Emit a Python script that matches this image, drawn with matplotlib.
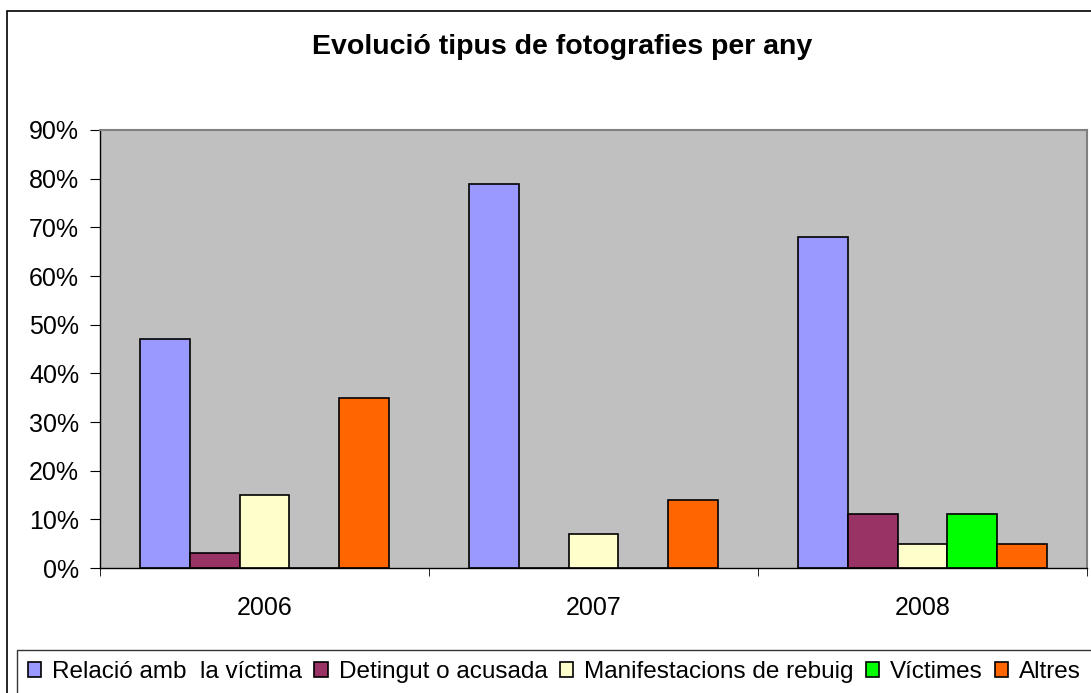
import numpy as np
import matplotlib
matplotlib.use("Agg")
import matplotlib.pyplot as plt
from matplotlib.patches import Rectangle

plt.rcParams['font.family'] = ['Liberation Sans', 'DejaVu Sans']

years = ['2006', '2007', '2008']
series = ['Relació amb  la víctima', 'Detingut o acusada',
          'Manifestacions de rebuig', 'Víctimes', 'Altres']
colors = ['#9999FF', '#993366', '#FFFFCC', '#00FF00', '#FF6600']

relacio = [47, 79, 68]
detingut = [3, 0, 11]
manifestacions = [15, 7, 5]
victimes = [0, 0, 11]
altres = [35, 14, 5]
values = [relacio, detingut, manifestacions, victimes, altres]

fig = plt.figure(figsize=(10.91, 6.93), dpi=100)
ax = fig.add_axes([100 / 1091, 1 - 568 / 693, 987 / 1091, 438 / 693])
ax.set_facecolor('#C0C0C0')

# outer chart frame
fig.patches.append(Rectangle((7 / 1091, -0.1), 1.2, 1.1 - 11 / 693,
                             transform=fig.transFigure, fill=False,
                             edgecolor='black', linewidth=1.2))

x = np.arange(len(years))
w = 1 / 6.6
for i, (vals, col, name) in enumerate(zip(values, colors, series)):
    pos = x - 0.5 + 0.121 + w * (i + 0.5)
    ax.bar(pos, vals, width=w, color=col, edgecolor='black',
           linewidth=1.2, label=name, zorder=2)

ax.set_xlim(-0.5, 2.5)
ax.set_ylim(0, 90)
ax.set_yticks(np.arange(0, 91, 10))
ax.set_yticklabels([f'{v}%' for v in range(0, 91, 10)], fontsize=18)
ax.set_xticks(x)
ax.set_xticklabels(years, fontsize=18)
ax.tick_params(axis='x', which='major', length=0, pad=20)
ax.set_xticks([-0.5, 0.5, 1.5, 2.5], minor=True)
ax.tick_params(axis='x', which='minor', length=6, direction='out')
ax.tick_params(axis='y', length=7, direction='out', pad=8)

for s in ['top', 'right']:
    ax.spines[s].set_color('#808080')
    ax.spines[s].set_linewidth(1.5)
for s in ['left', 'bottom']:
    ax.spines[s].set_color('black')
    ax.spines[s].set_linewidth(1.0)

fig.text(562 / 1091, 1 - 47 / 693, 'Evolució tipus de fotografies per any',
         ha='center', va='center', fontsize=20.5, fontweight='bold')

leg = fig.legend(loc='upper left', bbox_to_anchor=(17 / 1091, 1 - 650 / 693),
                 ncol=5, fontsize=17.5, frameon=True, fancybox=False,
                 edgecolor='black', handlelength=0.55, handleheight=0.55,
                 handletextpad=0.45, columnspacing=0.5, borderpad=0.45,
                 borderaxespad=0)
leg.get_frame().set_linewidth(1.0)

fig.savefig('out.png', dpi=100)
